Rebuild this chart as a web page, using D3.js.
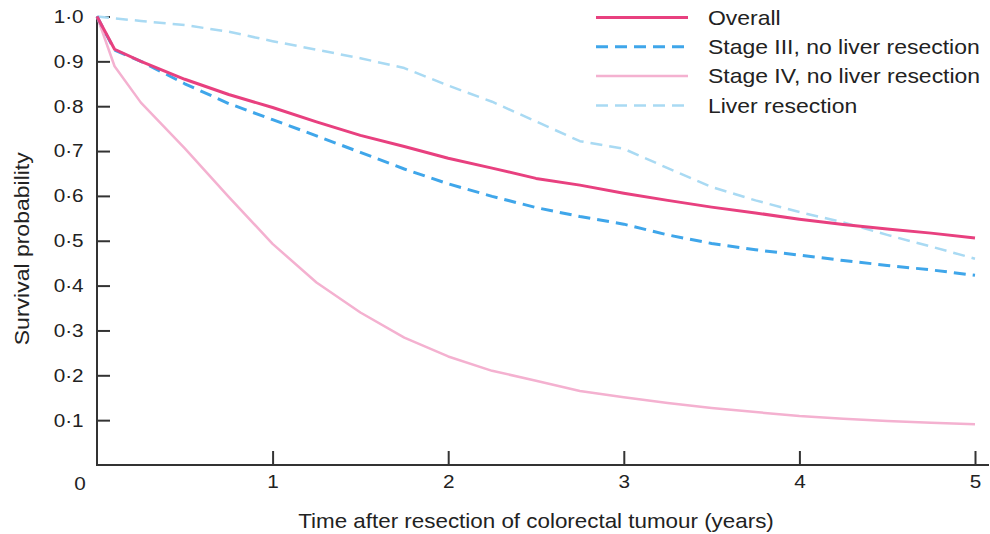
<!DOCTYPE html>
<html>
<head>
<meta charset="utf-8">
<script src="https://cdn.jsdelivr.net/npm/d3@7"></script>
<style>
  body { margin: 0; background: #fff; }
  svg text { font-family: "Liberation Sans", Arial, sans-serif; fill: #222; }
</style>
</head>
<body>
<svg width="990" height="534"></svg>
<script>
// years after resection
const TIMES = [0, 0.1, 0.25, 0.5, 0.75, 1, 1.25, 1.5, 1.75, 2, 2.25, 2.5, 2.75, 3, 3.25, 3.5, 3.75, 4, 4.25, 4.5, 4.75, 5];

const OVERALL = [1.0, 0.927, 0.900, 0.860, 0.826, 0.797, 0.765, 0.735, 0.710, 0.684, 0.662, 0.639, 0.624, 0.606, 0.590, 0.575, 0.562, 0.548, 0.536, 0.526, 0.517, 0.506];
const STAGE_III = [1.0, 0.925, 0.900, 0.850, 0.806, 0.770, 0.734, 0.697, 0.660, 0.627, 0.599, 0.574, 0.554, 0.537, 0.513, 0.494, 0.480, 0.468, 0.456, 0.445, 0.435, 0.423];
const STAGE_IV = [1.0, 0.889, 0.808, 0.706, 0.598, 0.493, 0.407, 0.340, 0.284, 0.242, 0.210, 0.188, 0.165, 0.151, 0.138, 0.127, 0.118, 0.109, 0.103, 0.098, 0.094, 0.091];
const LIVER = [1.0, 0.996, 0.990, 0.981, 0.966, 0.945, 0.926, 0.907, 0.885, 0.846, 0.810, 0.766, 0.722, 0.705, 0.662, 0.620, 0.590, 0.564, 0.541, 0.513, 0.487, 0.460];

const SERIES_NAMES = ["Overall", "Stage III, no liver resection", "Stage IV, no liver resection", "Liver resection"];
const X_TICKS = [1, 2, 3, 4, 5];
const Y_TICKS = [0.1, 0.2, 0.3, 0.4, 0.5, 0.6, 0.7, 0.8, 0.9, 1.0];

const STYLES = [
  { color: "#e8407f", width: 3, dash: null },
  { color: "#3fa6ea", width: 3, dash: "12,7" },
  { color: "#f4b1d0", width: 2.5, dash: null },
  { color: "#a9daf3", width: 2.5, dash: "12,7" },
];

// the source type is a bit wider than Liberation Sans
const WIDE = "scale(1.12,1)";

const svg = d3.select("svg");
const x = d3.scaleLinear().domain([0, 5]).range([97, 975]);
const y = d3.scaleLinear().domain([0, 1]).range([465, 16.5]);
const fmt = (d) => d3.format(".1f")(d).replace(".", "·");

const series = [OVERALL, STAGE_III, STAGE_IV, LIVER].map((vals, i) => ({
  name: SERIES_NAMES[i],
  style: STYLES[i],
  points: TIMES.map((t, j) => [t, vals[j]]),
}));

// axes
const yAxis = svg
  .append("g")
  .attr("transform", `translate(${x(0)},0)`)
  .call(d3.axisLeft(y).tickValues(Y_TICKS).tickSize(-13).tickSizeOuter(0).tickPadding(12).tickFormat(fmt));
yAxis.select(".domain").remove();
yAxis.selectAll("line").attr("stroke", "#333").attr("stroke-width", 2);
yAxis.selectAll("text").style("font-size", "18.5px").attr("fill", "#1a1a1a").attr("transform", WIDE);

const xAxis = svg
  .append("g")
  .attr("transform", `translate(0,${y(0)})`)
  .call(d3.axisBottom(x).tickValues(X_TICKS).tickSize(-14).tickSizeOuter(0).tickPadding(10).tickFormat(d3.format("d")));
xAxis.select(".domain").remove();
xAxis.selectAll("line").attr("stroke", "#333").attr("stroke-width", 2);
xAxis.selectAll("text").style("font-size", "18.5px").attr("fill", "#1a1a1a").attr("transform", WIDE);

svg.append("line")
  .attr("x1", x(0)).attr("x2", x(0))
  .attr("y1", y(0) + 1).attr("y2", y(1))
  .attr("stroke", "#333").attr("stroke-width", 2);
svg.append("line")
  .attr("x1", x(0) - 1).attr("x2", x(5) + 14)
  .attr("y1", y(0)).attr("y2", y(0))
  .attr("stroke", "#333").attr("stroke-width", 2);

svg.append("text")
  .attr("transform", `translate(${x(0) - 17},${y(0) + 25}) ${WIDE}`)
  .attr("text-anchor", "middle")
  .style("font-size", "18.5px")
  .text("0");

// curves
const line = d3.line().x((d) => x(d[0])).y((d) => y(d[1]));
svg
  .append("g")
  .selectAll("path")
  .data(series.slice().reverse())
  .enter()
  .append("path")
  .attr("d", (d) => line(d.points))
  .attr("fill", "none")
  .attr("stroke", (d) => d.style.color)
  .attr("stroke-width", (d) => d.style.width)
  .attr("stroke-dasharray", (d) => d.style.dash)
  .attr("stroke-linejoin", "round");

// legend
const legend = svg
  .append("g")
  .selectAll("g")
  .data(series)
  .enter()
  .append("g")
  .attr("transform", (d, i) => `translate(596,${17.5 + i * 29.3})`);
legend
  .append("line")
  .attr("x1", 0).attr("x2", 92)
  .attr("stroke", (d) => d.style.color)
  .attr("stroke-width", (d) => d.style.width)
  .attr("stroke-dasharray", (d) => d.style.dash);
legend
  .append("text")
  .attr("transform", `translate(112,0) ${WIDE}`)
  .attr("dy", "0.36em")
  .style("font-size", "20.5px")
  .text((d) => d.name);

// axis titles
svg.append("text")
  .attr("transform", `translate(29,${(y(0) + y(1)) / 2 + 8}) rotate(-90) scale(1.15,1)`)
  .attr("text-anchor", "middle")
  .style("font-size", "20px")
  .text("Survival probability");
svg.append("text")
  .attr("transform", `translate(536,528) ${WIDE}`)
  .attr("text-anchor", "middle")
  .style("font-size", "20px")
  .text("Time after resection of colorectal tumour (years)");
</script>
</body>
</html>
